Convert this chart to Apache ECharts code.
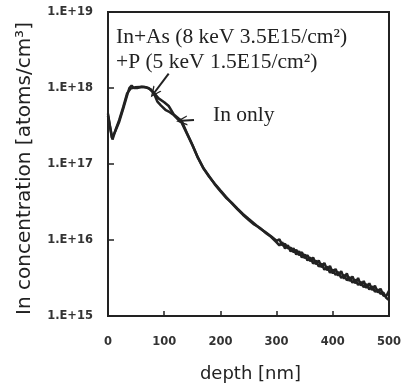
<!DOCTYPE html>
<html>
<head>
<meta charset="utf-8">
<script src="https://cdn.jsdelivr.net/npm/echarts@6/dist/echarts.min.js"></script>
<style>
html,body{margin:0;padding:0;background:#fff;}
#chart{width:404px;height:388px;}
</style>
</head>
<body>
<div id="chart"></div>
<script>
// Depth (nm) and In concentration (atoms/cm^3)
const depthA = [0,4,8,14,20,27,34,40,48,56,64,72,82,90,100,108,117,125,131,140,150,160,170,180,190,200,210,220,230,240,250,260,270,280,290,
  300,305,310,315,320,325,330,335,340,345,350,355,360,365,370,375,380,385,390,395,400,405,410,415,420,425,430,435,440,445,450,455,460,465,470,475,480,485,490,495,500];
const concA = [4.3e17,3.0e17,2.1e17,2.9e17,3.8e17,5.6e17,8.5e17,9.8e17,1.02e18,1.03e18,1.03e18,1.0e18,8.6e17,7.3e17,6.5e17,5.8e17,4.5e17,4.0e17,3.7e17,2.6e17,1.8e17,1.22e17,8.8e16,6.9e16,5.4e16,4.4e16,3.6e16,3.1e16,2.6e16,2.2e16,1.9e16,1.65e16,1.43e16,1.27e16,1.12e16,
  9.77e15,1.02e16,8.51e15,8.91e15,7.76e15,7.94e15,6.92e15,7.41e15,6.31e15,6.92e15,5.75e15,6.31e15,5.25e15,5.89e15,4.79e15,5.37e15,4.37e15,5.01e15,3.98e15,4.57e15,3.63e15,4.17e15,3.39e15,3.89e15,3.09e15,3.63e15,2.88e15,3.31e15,2.69e15,3.16e15,2.51e15,2.88e15,2.34e15,2.69e15,2.19e15,2.51e15,2.04e15,2.29e15,1.86e15,1.82e15,2.14e15];

const depthB = [0,3,7,13,20,27,34,38,42,46,52,60,68,76,82,88,94,103,110,117,124,131,140,150,160,170,180,190,200,210,220,230,240,250,260,270,280,290,
  300,305,310,315,320,325,330,335,340,345,350,355,360,365,370,375,380,385,390,395,400,405,410,415,420,425,430,435,440,445,450,455,460,465,470,475,480,485,490,495,500];
const concB = [4.6e17,3.3e17,2.2e17,2.7e17,3.6e17,5.3e17,8.0e17,1.0e18,1.08e18,1.0e18,1.0e18,1.04e18,1.02e18,9.6e17,8.4e17,6.6e17,5.9e17,5.1e17,4.8e17,4.4e17,3.9e17,3.5e17,2.55e17,1.78e17,1.2e17,8.7e16,6.8e16,5.5e16,4.5e16,3.7e16,3.05e16,2.55e16,2.15e16,1.85e16,1.6e16,1.45e16,1.25e16,1.1e16,
  9.33e15,8.51e15,9.33e15,7.76e15,8.51e15,7.08e15,7.76e15,6.46e15,7.08e15,5.89e15,6.46e15,5.37e15,5.89e15,4.90e15,5.37e15,4.47e15,4.90e15,4.07e15,4.47e15,3.72e15,4.07e15,3.47e15,3.80e15,3.16e15,3.47e15,2.95e15,3.24e15,2.75e15,3.02e15,2.57e15,2.82e15,2.40e15,2.63e15,2.24e15,2.45e15,2.09e15,2.24e15,1.95e15,2.04e15,1.74e15,1.62e15];

const yTickLabels = ['1.E+15','1.E+16','1.E+17','1.E+18','1.E+19'];
const xTickLabels = ['0','100','200','300','400','500'];

// Annotation arrows (data coordinates): [tail, head]
const arrowCombined = [[108, 1.55e18], [82, 8.6e17]];
const arrowInOnly = [[153, 3.8e17], [131, 3.7e17]];

const annotationLine1 = 'In+As (8 keV 3.5E15/cm²)';
const annotationLine2 = '+P (5 keV 1.5E15/cm²)';
const annotationInOnly = 'In only';

const zip = (xs, ys) => xs.map((x, i) => [x, ys[i]]);
const ink = '#222';
const chevron = 'path://M0,10 L5,0 L10,10 L8.6,10 L5,3 L1.4,10 Z';

const chart = echarts.init(document.getElementById('chart'), null, {renderer: 'canvas'});
chart.setOption({
  animation: false,
  backgroundColor: '#fff',
  grid: {left: 108, right: 11, top: 12, bottom: 66, show: true, borderColor: ink, borderWidth: 2, backgroundColor: 'transparent'},
  xAxis: {
    type: 'value', min: 0, max: 500, interval: 100,
    name: 'depth [nm]', nameLocation: 'middle', nameGap: 49,
    nameTextStyle: {fontFamily: 'DejaVu Sans', fontSize: 18, color: ink, padding: [0, 0, 0, 4]},
    axisLine: {show: true, lineStyle: {color: ink, width: 2}},
    axisTick: {show: true, inside: true, length: 5, lineStyle: {color: ink, width: 1.5}},
    axisLabel: {margin: 20, fontFamily: 'DejaVu Sans', fontWeight: 'bold', fontSize: 11.5, color: '#333',
      formatter: (v) => xTickLabels[Math.round(v / 100)]},
    splitLine: {show: false}
  },
  yAxis: {
    type: 'log', logBase: 10, min: 1e15, max: 1e19,
    name: 'In concentration [atoms/cm³]', nameLocation: 'middle', nameGap: 73, nameRotate: 90,
    nameTextStyle: {fontFamily: 'DejaVu Sans', fontSize: 20, color: ink, padding: [0, 9, 0, 0]},
    axisLine: {show: true, lineStyle: {color: ink, width: 2}},
    axisTick: {show: true, inside: true, length: 6, lineStyle: {color: ink, width: 1.5}},
    minorTick: {show: false},
    axisLabel: {margin: 15, showMaxLabel: true, showMinLabel: true, fontFamily: 'DejaVu Sans', fontWeight: 'bold', fontSize: 11.5, color: '#333',
      formatter: (v) => yTickLabels[Math.round(Math.log10(v)) - 15]},
    splitLine: {show: false}
  },
  series: [
    {
      name: 'In+As+P', type: 'line', data: zip(depthA, concA), showSymbol: false,
      lineStyle: {color: ink, width: 2.5}, z: 3,
      markLine: {
        silent: true, symbol: ['none', chevron], symbolSize: [10, 11],
        lineStyle: {color: ink, width: 2, type: 'solid'}, itemStyle: {color: ink},
        label: {show: false},
        data: [[{coord: arrowCombined[0]}, {coord: arrowCombined[1]}]]
      }
    },
    {
      name: 'In only', type: 'line', data: zip(depthB, concB), showSymbol: false,
      lineStyle: {color: ink, width: 2.5}, z: 3,
      markLine: {
        silent: true, symbol: ['none', chevron], symbolSize: [10, 11],
        lineStyle: {color: ink, width: 2, type: 'solid'}, itemStyle: {color: ink},
        label: {show: false},
        data: [[{coord: arrowInOnly[0]}, {coord: arrowInOnly[1]}]]
      }
    }
  ],
  graphic: [
    {type: 'text', left: 116, top: 26, style: {text: annotationLine1, font: '21.5px "Liberation Serif"', fill: ink}},
    {type: 'text', left: 116, top: 51, style: {text: annotationLine2, font: '21.5px "Liberation Serif"', fill: ink}},
    {type: 'text', left: 213, top: 104, style: {text: annotationInOnly, font: '21.5px "Liberation Serif"', fill: ink}}
  ]
});
</script>
</body>
</html>
